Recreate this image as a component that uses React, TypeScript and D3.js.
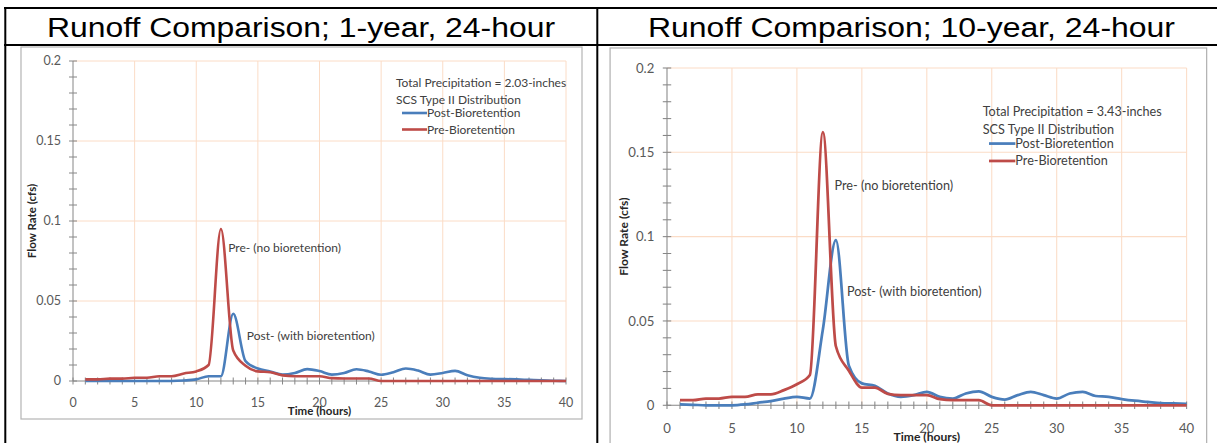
import React, { useEffect, useRef } from 'react';
import * as d3 from 'd3';

// hourly series (cfs)
const hours = [1, 2, 3, 4, 5, 6, 7, 8, 9, 10, 11, 12, 13, 14, 15, 16, 17, 18, 19, 20,
  21, 22, 23, 24, 25, 26, 27, 28, 29, 30, 31, 32, 33, 34, 35, 36, 37, 38, 39, 40];

const pre1yr = [0.001, 0.001, 0.0015, 0.0015, 0.002, 0.002, 0.003, 0.003, 0.0047, 0.006,
  0.01, 0.095, 0.019, 0.0095, 0.006, 0.0055, 0.0035, 0.003, 0.003, 0.003,
  0.0018, 0.0016, 0.0016, 0.0016, 0, 0, 0, 0, 0, 0,
  0, 0, 0, 0, 0, 0, 0, 0, 0, 0];
const post1yr = [0, 0, 0, 0, 0, 0, 0, 0, 0.0003, 0.001,
  0.003, 0.003, 0.042, 0.0124, 0.0078, 0.006, 0.004, 0.005, 0.0074, 0.0062,
  0.004, 0.005, 0.0073, 0.006, 0.0039, 0.0055, 0.0078, 0.0065, 0.004, 0.005,
  0.0063, 0.0036, 0.002, 0.0014, 0.0012, 0.001, 0.0007, 0.0004, 0.0002, 0];

const pre10yr = [0.003, 0.003, 0.004, 0.004, 0.005, 0.005, 0.0065, 0.0065, 0.009, 0.0125,
  0.018, 0.162, 0.035, 0.0205, 0.0105, 0.0105, 0.0068, 0.006, 0.006, 0.006,
  0.0036, 0.003, 0.003, 0.003, 0, 0, 0, 0, 0, 0,
  0, 0, 0, 0, 0, 0, 0, 0, 0, 0];
const post10yr = [0.0005, 0.0003, 0, 0, 0, 0.0005, 0.0015, 0.0025, 0.004, 0.005,
  0.004, 0.045, 0.098, 0.0235, 0.013, 0.0115, 0.007, 0.005, 0.006, 0.008,
  0.005, 0.004, 0.007, 0.0083, 0.005, 0.0034, 0.006, 0.008, 0.006, 0.004,
  0.007, 0.008, 0.0055, 0.005, 0.0037, 0.0027, 0.002, 0.0013, 0.0011, 0.0009];

const xTicks = [0, 5, 10, 15, 20, 25, 30, 35, 40];
const yTicks = [0, 0.05, 0.1, 0.15, 0.2];
const yTickLabels = ['0', '0.05', '0.1', '0.15', '0.2'];

const seriesNames = ['Post-Bioretention', 'Pre-Bioretention'];
const notePre = 'Pre- (no bioretention)';
const notePost = 'Post- (with bioretention)';

const W = 1217;
const H = 443;
const PLOT_W = 493;
const PLOT_H = 320;
const BLUE = '#4a7ebb';
const RED = '#be4b48';
const GRID = '#fbdcc6';
const AXIS = '#868686';
const FONT = 'Lato, "Open Sans", sans-serif';

const panels = [
  {
    title: 'Runoff Comparison; 1-year, 24-hour', titleX: 301, titleW: 508,
    ox: 73, oy: 61, k: 1, frame: [-52, -14, 561, 372],
    pre: pre1yr, post: post1yr, precip: 'Total Precipitation = 2.03-inches',
    legend: [323, 22], preNote: [12.6, 0.0834], postNote: [14.1, 0.0284],
  },
  {
    title: 'Runoff Comparison; 10-year, 24-hour', titleX: 911.5, titleW: 527,
    ox: 667, oy: 68, k: 1.054, frame: [-54, -19, 566, 420],
    pre: pre10yr, post: post10yr, precip: 'Total Precipitation = 3.43-inches',
    legend: [299.5, 41.7], preNote: [12.9, 0.13], postNote: [13.85, 0.0676],
  },
];

const App = () => {
  const svgRef = useRef<SVGSVGElement>(null);

  useEffect(() => {
    const svg = d3.select(svgRef.current);
    svg.selectAll('*').remove();

    const x = d3.scaleLinear().domain([0, 40]).range([0, PLOT_W]);
    const y = d3.scaleLinear().domain([0, 0.2]).range([PLOT_H, 0]);

    // --- table around the two charts ---
    const table = svg.append('g').attr('stroke', '#000').attr('stroke-width', 2);
    table.append('line').attr('x1', 4).attr('x2', W).attr('y1', 8).attr('y2', 8);
    table.append('line').attr('x1', 4).attr('x2', W).attr('y1', 45).attr('y2', 45);
    table.append('line').attr('x1', 5.3).attr('x2', 5.3).attr('y1', 7).attr('y2', H);
    table.append('line').attr('x1', 597.3).attr('x2', 597.3).attr('y1', 7).attr('y2', H);

    panels.forEach(p => {
      svg.append('text')
        .attr('x', p.titleX).attr('y', 37)
        .attr('text-anchor', 'middle')
        .attr('textLength', p.titleW)
        .attr('lengthAdjust', 'spacingAndGlyphs')
        .style('font-family', '"Liberation Sans", Arial, sans-serif')
        .style('font-size', '27px')
        .style('fill', '#000')
        .text(p.title);

      const g = svg.append('g').attr('transform', `translate(${p.ox},${p.oy}) scale(${p.k})`);

      // chart area frame
      const [fx, fy, fw, fh] = p.frame;
      g.append('rect')
        .attr('x', fx).attr('y', fy).attr('width', fw).attr('height', fh)
        .attr('fill', '#fff').attr('stroke', '#b4b4b4').attr('stroke-width', 1.2);

      // gridlines
      g.append('g').selectAll('line').data(xTicks.slice(1)).enter().append('line')
        .attr('x1', d => x(d)).attr('x2', d => x(d)).attr('y1', 0).attr('y2', PLOT_H)
        .attr('stroke', GRID).attr('stroke-width', 1);
      g.append('g').selectAll('line').data(yTicks.slice(1)).enter().append('line')
        .attr('x1', 0).attr('x2', PLOT_W).attr('y1', d => y(d)).attr('y2', d => y(d))
        .attr('stroke', GRID).attr('stroke-width', 1);

      // axes with crossing tick marks
      const axes = g.append('g').attr('stroke', AXIS).attr('stroke-width', 1);
      axes.append('line').attr('x1', 0).attr('x2', 0).attr('y1', 0).attr('y2', PLOT_H);
      axes.append('line').attr('x1', 0).attr('x2', PLOT_W).attr('y1', PLOT_H).attr('y2', PLOT_H);
      axes.selectAll('.ytk').data(d3.range(0, 21)).enter().append('line')
        .attr('x1', -4).attr('x2', 4)
        .attr('y1', d => y(d / 100)).attr('y2', d => y(d / 100));
      axes.selectAll('.xtk').data(d3.range(0, 41)).enter().append('line')
        .attr('x1', d => x(d)).attr('x2', d => x(d))
        .attr('y1', PLOT_H - 3.5).attr('y2', PLOT_H + 3.5);

      const tickStyle = (s: any) => s
        .style('font-family', FONT).style('font-size', '12.5px').style('fill', '#595959');

      g.append('g').selectAll('text').data(yTicks).enter().append('text')
        .attr('x', -12).attr('y', d => y(d)).attr('dy', '0.35em')
        .attr('text-anchor', 'end')
        .call(tickStyle)
        .text((d, i) => yTickLabels[i]);
      g.append('g').selectAll('text').data(xTicks).enter().append('text')
        .attr('x', d => x(d)).attr('y', 342).attr('dy', '0.35em')
        .attr('text-anchor', 'middle')
        .call(tickStyle)
        .text(d => String(d));

      // axis titles
      g.append('text')
        .attr('transform', `translate(-41,${PLOT_H / 2}) rotate(-90)`)
        .attr('text-anchor', 'middle').attr('dy', '0.35em')
        .style('font-family', FONT).style('font-size', '11.5px').style('font-weight', 700)
        .style('fill', '#262626')
        .text('Flow Rate (cfs)');
      g.append('text')
        .attr('x', PLOT_W / 2).attr('y', 350).attr('dy', '0.35em')
        .attr('text-anchor', 'middle')
        .style('font-family', FONT).style('font-size', '11.5px').style('font-weight', 700)
        .style('fill', '#262626')
        .text('Time (hours)');

      // series, smoothed like Excel
      const line = d3.line<number>()
        .x((d, i) => x(hours[i]))
        .y(d => y(d))
        .curve(d3.curveMonotoneX);

      g.append('path').datum(p.post)
        .attr('d', line).attr('fill', 'none')
        .attr('stroke', BLUE).attr('stroke-width', 2.6).attr('stroke-linejoin', 'round');
      g.append('path').datum(p.pre)
        .attr('d', line).attr('fill', 'none')
        .attr('stroke', RED).attr('stroke-width', 2.6).attr('stroke-linejoin', 'round');

      const textStyle = (s: any) => s
        .style('font-family', FONT).style('font-size', '12px').style('fill', '#404040');

      // annotations
      g.append('text')
        .attr('x', x(p.preNote[0])).attr('y', y(p.preNote[1])).attr('dy', '0.35em')
        .call(textStyle).text(notePre);
      g.append('text')
        .attr('x', x(p.postNote[0])).attr('y', y(p.postNote[1])).attr('dy', '0.35em')
        .call(textStyle).text(notePost);

      // legend
      const [lx, ly] = p.legend;
      const lg = g.append('g').attr('transform', `translate(${lx},${ly})`);
      lg.append('text').attr('y', 0).attr('dy', '0.35em').call(textStyle).text(p.precip);
      lg.append('text').attr('y', 17).attr('dy', '0.35em').call(textStyle).text('SCS Type II Distribution');
      [BLUE, RED].forEach((c, i) => {
        const yy = 30 + i * 16.5;
        lg.append('line').attr('x1', 6).attr('x2', 31).attr('y1', yy).attr('y2', yy)
          .attr('stroke', c).attr('stroke-width', 2.6);
        lg.append('text').attr('x', 31).attr('y', yy).attr('dy', '0.35em')
          .call(textStyle).text(seriesNames[i]);
      });
    });
  }, []);

  return (
    <svg
      ref={svgRef}
      width={W}
      height={H}
      style={{ position: 'absolute', left: 0, top: 0, background: '#fff' }}
    />
  );
};

export default App;
